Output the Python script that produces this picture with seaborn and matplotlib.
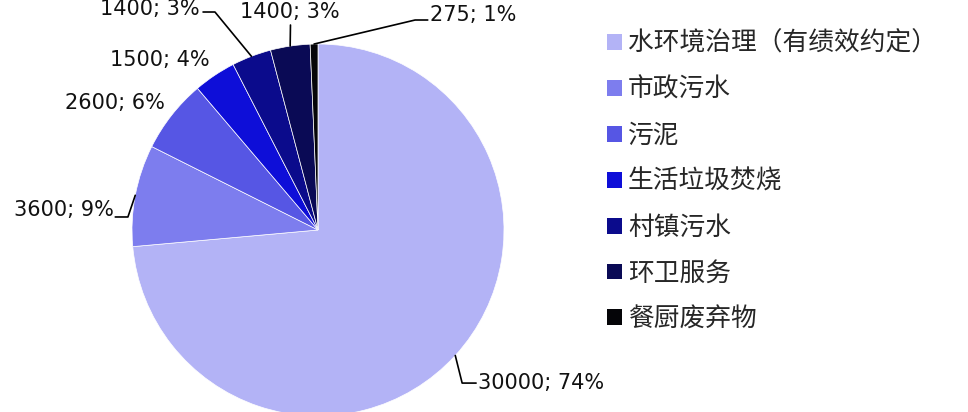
import matplotlib
matplotlib.use('Agg')
import matplotlib.pyplot as plt
from matplotlib.patches import Patch
import seaborn as sns
import numpy as np

sns.set_theme(style='white')
plt.rcParams['font.family'] = ['Noto Sans CJK SC', 'DejaVu Sans']

# data
categories = ['水环境治理（有绩效约定）', '市政污水', '污泥', '生活垃圾焚烧',
              '村镇污水', '环卫服务', '餐厨废弃物']
values = [30000, 3600, 2600, 1500, 1400, 1400, 275]
pcts = [74, 9, 6, 4, 3, 3, 1]
colors = sns.color_palette(['#B3B3F6', '#7D7DEE', '#5656E4', '#0E0ED8',
                            '#0B0B8C', '#0A0A55', '#050508'])

# label layout (text pos, ha, leader elbow points) in pie units
label_pos = [(0.86, -0.823, 'left'), (-1.10, 0.11, 'right'), (-0.823, 0.683, 'right'),
             (-0.581, 0.914, 'right'), (-0.634, 1.19, 'right'), (-0.151, 1.172, 'center'),
             (0.602, 1.156, 'left')]
leaders = [[(0.775, -0.823), (0.85, -0.823)],
           [(-1.022, 0.07), (-1.09, 0.07)],
           None,
           None,
           [(-0.554, 1.172), (-0.618, 1.172)],
           [(-0.148, 1.102)],
           [(0.522, 1.129), (0.59, 1.129)]]

fig = plt.figure(figsize=(9.68, 4.12), dpi=100)
fig.patch.set_facecolor('white')
ax = fig.add_axes([132 / 968, -4 / 412, 372 / 968, 372 / 412])

wedges, _ = ax.pie(values, colors=colors, startangle=90, counterclock=False,
                   radius=1, wedgeprops=dict(edgecolor='white', linewidth=0.5))
ax.set_xlim(-1, 1)
ax.set_ylim(-1, 1)
ax.set_aspect('equal')
ax.axis('off')

for w, v, p, (tx, ty, ha), ld in zip(wedges, values, pcts, label_pos, leaders):
    ang = np.deg2rad((w.theta1 + w.theta2) / 2)
    ex, ey = np.cos(ang), np.sin(ang)
    if ld is not None:
        xs = [ex] + [pt[0] for pt in ld]
        ys = [ey] + [pt[1] for pt in ld]
        ax.plot(xs, ys, color='black', lw=1.2, clip_on=False)
    ax.text(tx, ty, f'{v}; {p}%', ha=ha, va='center', fontsize=15,
            family='DejaVu Sans', color='#111111', clip_on=False)

handles = [Patch(facecolor=c, edgecolor='none') for c in colors]
fig.legend(handles, categories, loc='upper left', bbox_to_anchor=(607 / 968, 1 - 31 / 412),
           frameon=False, fontsize=18.5, handlelength=0.58, handleheight=0.58,
           handletextpad=0.23, labelspacing=0.775, borderaxespad=0, borderpad=0)

plt.savefig('out.png', dpi=100, facecolor='white')
plt.close()
